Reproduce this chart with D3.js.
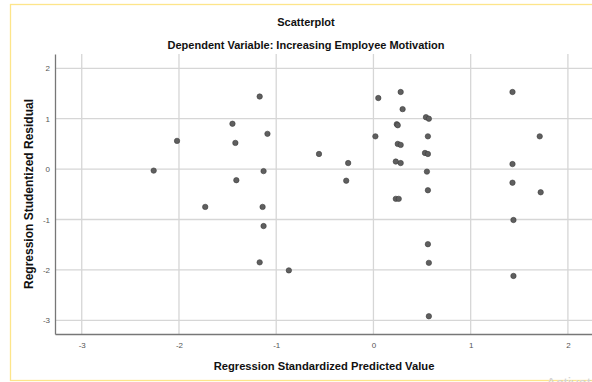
<!DOCTYPE html>
<html>
<head>
<meta charset="utf-8">
<script src="https://cdn.jsdelivr.net/npm/d3@7/dist/d3.min.js"></script>
<style>
  body { margin: 0; padding: 0; background: #fff; }
  svg { display: block; font-family: "Liberation Sans", Arial, sans-serif; }
</style>
</head>
<body>
<div id="chart"></div>
<script>
// values
var predicted = [-2.26, -2.02, -1.45, -1.42, -1.41, -1.73, -1.17, -1.09, -1.13, -1.14,
                 -1.13, -1.17, -0.87, -0.56, -0.26, -0.28, 0.05, 0.02, 0.28, 0.30,
                 0.24, 0.25, 0.25, 0.28, 0.23, 0.28, 0.23, 0.26, 0.54, 0.57,
                 0.56, 0.53, 0.56, 0.55, 0.56, 0.56, 0.57, 0.57, 1.43, 1.71,
                 1.43, 1.43, 1.72, 1.44, 1.44];
var residual = [-0.03, 0.56, 0.90, 0.52, -0.22, -0.75, 1.44, 0.70, -0.04, -0.75,
                -1.13, -1.85, -2.01, 0.30, 0.12, -0.23, 1.41, 0.65, 1.53, 1.19,
                0.89, 0.87, 0.50, 0.48, 0.15, 0.12, -0.59, -0.59, 1.03, 1.00,
                0.65, 0.32, 0.30, -0.05, -0.42, -1.49, -1.86, -2.92, 1.53, 0.65,
                0.10, -0.27, -0.46, -1.01, -2.12];
var xTicks = [-3, -2, -1, 0, 1, 2];
var yTicks = [-3, -2, -1, 0, 1, 2];

var W = 592, H = 382;
var mLeft = 55, mRight = 600, mTop = 54, mBottom = 334;

var svg = d3.select("#chart").append("svg")
    .attr("width", W)
    .attr("height", H);

svg.append("rect")
    .attr("x", 10.5).attr("y", 4.5)
    .attr("width", 620).attr("height", 376)
    .attr("fill", "#fff")
    .attr("stroke", "#fde58a")
    .attr("stroke-width", 1.3);

var x = d3.scaleLinear().domain([-3.275, 2.33]).range([mLeft, mRight]);
var y = d3.scaleLinear().domain([-3.272, 2.284]).range([mBottom, mTop]);

// grid
svg.append("g").selectAll("line").data(xTicks).enter().append("line")
    .attr("x1", function(d) { return x(d); })
    .attr("x2", function(d) { return x(d); })
    .attr("y1", mTop).attr("y2", mBottom)
    .attr("stroke", "#d6d6d6").attr("stroke-width", 1.3);

svg.append("g").selectAll("line").data(yTicks).enter().append("line")
    .attr("x1", mLeft).attr("x2", mRight)
    .attr("y1", function(d) { return y(d); })
    .attr("y2", function(d) { return y(d); })
    .attr("stroke", "#d6d6d6").attr("stroke-width", 1.3);

// axes
var fmt = function(d) { return String(d); };
var xAxis = svg.append("g")
    .attr("transform", "translate(0," + mBottom + ")")
    .call(d3.axisBottom(x).tickValues(xTicks).tickFormat(fmt).tickSize(0).tickPadding(8));
var yAxis = svg.append("g")
    .attr("transform", "translate(" + mLeft + ",0)")
    .call(d3.axisLeft(y).tickValues(yTicks).tickFormat(fmt).tickSize(0).tickPadding(5));

[xAxis, yAxis].forEach(function(g) {
    g.select(".domain").attr("stroke", "#777").attr("stroke-width", 1.3);
    g.selectAll("text").attr("font-size", 8).attr("fill", "#555")
        .attr("font-family", "Liberation Sans, Arial, sans-serif");
});

// points
svg.append("g").selectAll("circle").data(predicted).enter().append("circle")
    .attr("cx", function(d) { return x(d); })
    .attr("cy", function(d, i) { return y(residual[i]); })
    .attr("r", 2.7)
    .attr("fill", "#5f5f5f")
    .attr("stroke", "#3d3d3d")
    .attr("stroke-width", 0.6);

// titles
svg.append("text")
    .attr("x", 306).attr("y", 26)
    .attr("text-anchor", "middle")
    .attr("font-size", 11).attr("font-weight", "bold").attr("fill", "#111")
    .text("Scatterplot");

svg.append("text")
    .attr("x", 306).attr("y", 49)
    .attr("text-anchor", "middle")
    .attr("font-size", 11).attr("font-weight", "bold").attr("fill", "#111")
    .text("Dependent Variable: Increasing Employee Motivation");

svg.append("text")
    .attr("x", 324).attr("y", 370)
    .attr("text-anchor", "middle")
    .attr("font-size", 11.2).attr("font-weight", "bold").attr("fill", "#111")
    .text("Regression Standardized Predicted Value");

svg.append("text")
    .attr("transform", "translate(33,194) rotate(-90)")
    .attr("text-anchor", "middle")
    .attr("font-size", 12).attr("font-weight", "bold").attr("fill", "#111")
    .text("Regression Studentized Residual");

// faint watermark at the corner
svg.append("text")
    .attr("x", 546).attr("y", 388)
    .attr("font-size", 15).attr("fill", "#d4d4d4")
    .text("Activate");
</script>
</body>
</html>
